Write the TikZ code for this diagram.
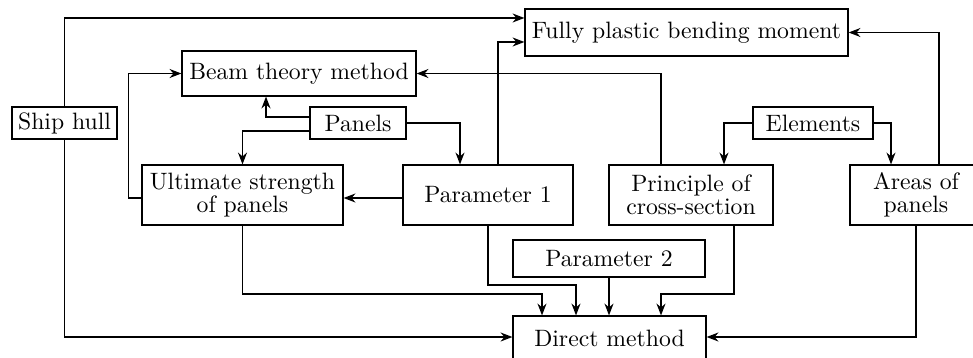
\documentclass[tikz,border=0pt]{standalone}
\usetikzlibrary{arrows.meta}

\begin{document}
\begin{tikzpicture}[
  x=0.4222pt, y=-0.4222pt,
  line width=0.5pt,
  box/.style 2 args={draw, rectangle, inner sep=0pt, align=center,
    font=\fontsize{10}{9.8}\selectfont,
    minimum width={#1*0.4222pt}, minimum height={#2*0.4222pt}},
  arr/.style={-{Stealth[length=5pt,width=3.8pt]}}
]
\useasboundingbox (0,0) rectangle (973,358);

% boxes
\node[box={105}{32}]  (ship)     at (64.5,123)  {Ship hull};
\node[box={234}{45}]  (beam)     at (299,73.5)  {Beam theory method};
\node[box={96}{32}]   (panels)   at (358,123)   {Panels};
\node[box={323}{47}]  (fpbm)     at (686.5,32.5) {Fully plastic bending moment};
\node[box={120}{32}]  (elements) at (813,123)   {Elements};
\node[box={201}{60}]  (ult)      at (242.5,195) {Ultimate strength\\of panels};
\node[box={170}{60}]  (par1)     at (488,195)   {Parameter 1};
\node[box={164}{60}]  (princ)    at (691,195)   {Principle of\\cross-section};
\node[box={132}{60}]  (areas)    at (916,195)   {Areas of\\panels};
\node[box={192}{37}]  (par2)     at (609,258.5) {Parameter 2};
\node[box={193}{44}]  (direct)   at (609.5,338) {Direct method};

% connectors
\draw[arr] (ship.north) |- (fpbm.west |- 0,18);
\draw[arr] (ship.south) |- (direct.west |- 0,337);

\draw[arr] (panels.west |- 0,117) -| (beam.south -| 266,0);
\draw[arr] (panels.west |- 0,131) -| (ult.north);
\draw[arr] (panels.east) -| (par1.north -| 460,0);

\draw[arr] (ult.west |- 0,198) -- ++(-13,0) |- (beam.west);
\draw[arr] (par1.west |- 0,198) -- (ult.east |- 0,198);
\draw[arr] (par1.north -| 498,0) |- (fpbm.west |- 0,42);

\draw[arr] (princ.north -| 661,0) |- (beam.east);
\draw[arr] (elements.west) -| (princ.north -| 724,0);
\draw[arr] (elements.east) -| (areas.north -| 891,0);
\draw[arr] (areas.north -| 939,0) |- (fpbm.east);
\draw[arr] (areas.south) |- (direct.east |- 0,337);

\draw[arr] (ult.south) -- (ult.south |- 0,294) -| (direct.north -| 542,0);
\draw[arr] (par1.south) -- (par1.south |- 0,285) -| (direct.north -| 576,0);
\draw[arr] (par2.south) -- (par2.south |- direct.north);
\draw[arr] (princ.south -| 734,0) -- (734,294) -| (direct.north -| 661,0);
\end{tikzpicture}
\end{document}
